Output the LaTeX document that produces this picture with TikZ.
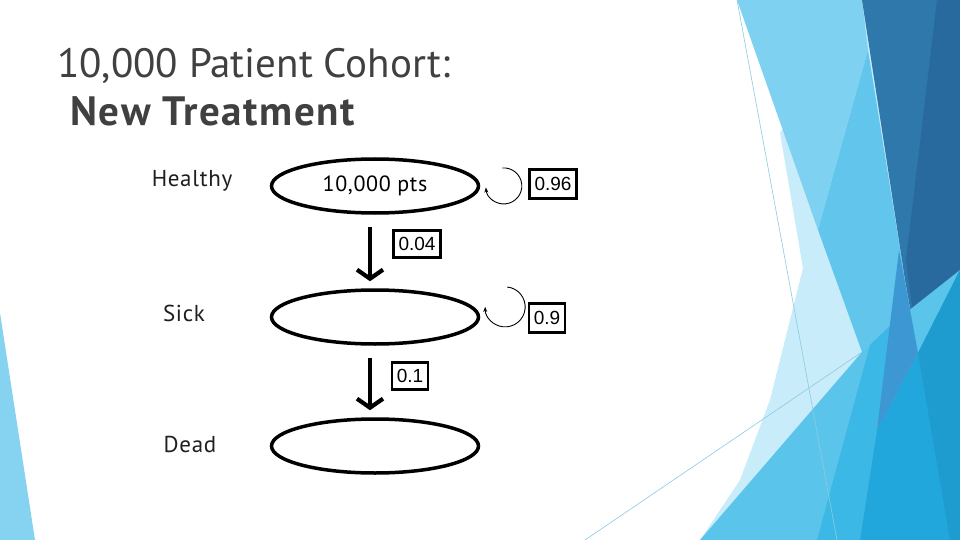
\documentclass[tikz,border=0pt]{standalone}
\usepackage{fontspec}
\setmainfont{PT Sans}
\newfontfamily\boxfont{Liberation Sans}
\usetikzlibrary{positioning}
\usetikzlibrary{arrows.meta,shapes}
\usetikzlibrary{calc}
\definecolor{titlegray}{HTML}{404040}
\definecolor{vlight}{HTML}{C8ECF9}
\definecolor{lightband}{HTML}{7FD1F1}
\definecolor{midband}{HTML}{62C6EC}
\definecolor{darkA}{HTML}{2F78AC}
\definecolor{darkB}{HTML}{28699E}
\definecolor{bandlow}{HTML}{5BC4EA}
\definecolor{bandbright}{HTML}{3CB8E6}
\definecolor{deepsky}{HTML}{22A7DD}
\definecolor{steel}{HTML}{1E9BCF}
\definecolor{violet}{HTML}{3C97D2}
\definecolor{leftband}{HTML}{86D3F1}
\definecolor{thinline}{HTML}{8CCBE3}
\tikzstyle{state}=[ellipse,draw=black,line width=3.5pt,minimum width=207pt,minimum height=54pt,inner sep=0pt,font=\fontsize{22}{22}\selectfont\addfontfeatures{LetterSpace=3}]
\tikzstyle{rowlabel}=[font=\fontsize{23}{23}\selectfont\addfontfeatures{LetterSpace=3},text=black!88,inner sep=0pt]
\tikzstyle{prob}=[draw=black,line width=2.4pt,fill=white,font=\boxfont\fontsize{19}{19}\selectfont,minimum height=29pt,inner xsep=5pt,inner ysep=0pt]
\tikzstyle{trans}=[line width=4.2pt,-{Straight Barb[length=9pt,width=26pt]}]
\tikzstyle{selfloop}=[line width=0.9pt,-{Stealth[length=5pt,width=4pt]}]
\tikzstyle{title}=[font=\fontsize{41}{41}\selectfont,text=titlegray,inner sep=0pt,anchor=base west]

\begin{document}
\begin{tikzpicture}[x=1pt,y=-1pt]

  % slide background
  \fill[white] (0,0) rectangle (960,540);
  \useasboundingbox (0,0) rectangle (960,540);
  \fill[vlight] (780,133) -- (803,268) -- (770,400) -- (740,480) -- (700,540) -- (960,540) -- (960,0) -- (862,0) -- cycle;
  \fill[lightband] (737,0) -- (862,0) -- (868,50) -- (818,230) -- cycle;
  \fill[midband] (868,50) -- (905,280) -- (918,353) -- (862,352) -- (818,230) -- cycle;
  \fill[darkA] (862,0) -- (960,0) -- (960,270) -- (918,353) -- (905,280) -- cycle;
  \fill[darkB] (937,0) -- (960,0) -- (960,270) -- (918,353) -- (906,260) -- cycle;
  \fill[bandlow] (700,540) -- (862,352) -- (893,323) -- (960,270) -- (960,540) -- cycle;
  \fill[bandbright] (817,540) -- (870,345) -- (893,323) -- (877,430) -- (860,540) -- cycle;
  \fill[deepsky] (860,540) -- (877,430) -- (918,353) -- (960,270) -- (960,540) -- cycle;
  \fill[violet] (899,250) -- (918,353) -- (877,430) -- cycle;
  \fill[steel] (918,353) -- (960,270) -- (960,540) -- (950,540) -- cycle;
  \fill[leftband] (0,313) -- (35,540) -- (0,540) -- cycle;
  \draw[thinline,line width=0.6pt] (737,0) -- (837,540);
  \draw[thinline,line width=0.6pt] (585,540) -- (862,352);

  % title
  \node[title] (t1) at (57,78) {10,000 Patient Cohort:};
  \node[title,font=\fontsize{41}{41}\selectfont\bfseries\addfontfeatures{LetterSpace=4}] (t2) at (70,126) {New Treatment};

  % states
  \foreach \x/\y/\name/\txt in {375/186/healthy/{10,000 pts}, 375/317/sick/{}, 375/446/dead/{}}
    \node[state] (\name) at (\x,\y) {\txt};

  \foreach \x/\y/\name/\txt in {192/181/lhealthy/Healthy, 184/313/lsick/Sick, 190/444/ldead/Dead}
    \node[rowlabel] (\name) at (\x,\y) {\txt};

  % transitions
  \draw[trans] ([xshift=-5pt,yshift=-12pt]healthy.south) -- ([xshift=-5pt,yshift=7pt]sick.north);
  \draw[trans] ([xshift=-5pt,yshift=-12pt]sick.south) -- ([xshift=-5pt,yshift=7pt]dead.north);
  \draw[selfloop] (healthy.east) ++(22pt,18pt) arc[start angle=95,end angle=-175,radius=18pt];
  \draw[selfloop] (sick.east) ++(27pt,30pt) arc[start angle=84,end angle=-180,radius=20pt];

  % probabilities
  \node[prob] (p96) at (553,184) {0.96};
  \node[prob,minimum height=27pt] (p04) at (417,244) {0.04};
  \node[prob] (p9) at (547,318) {0.9};
  \node[prob,minimum height=27pt] (p1) at (410,376) {0.1};

\end{tikzpicture}
\end{document}
